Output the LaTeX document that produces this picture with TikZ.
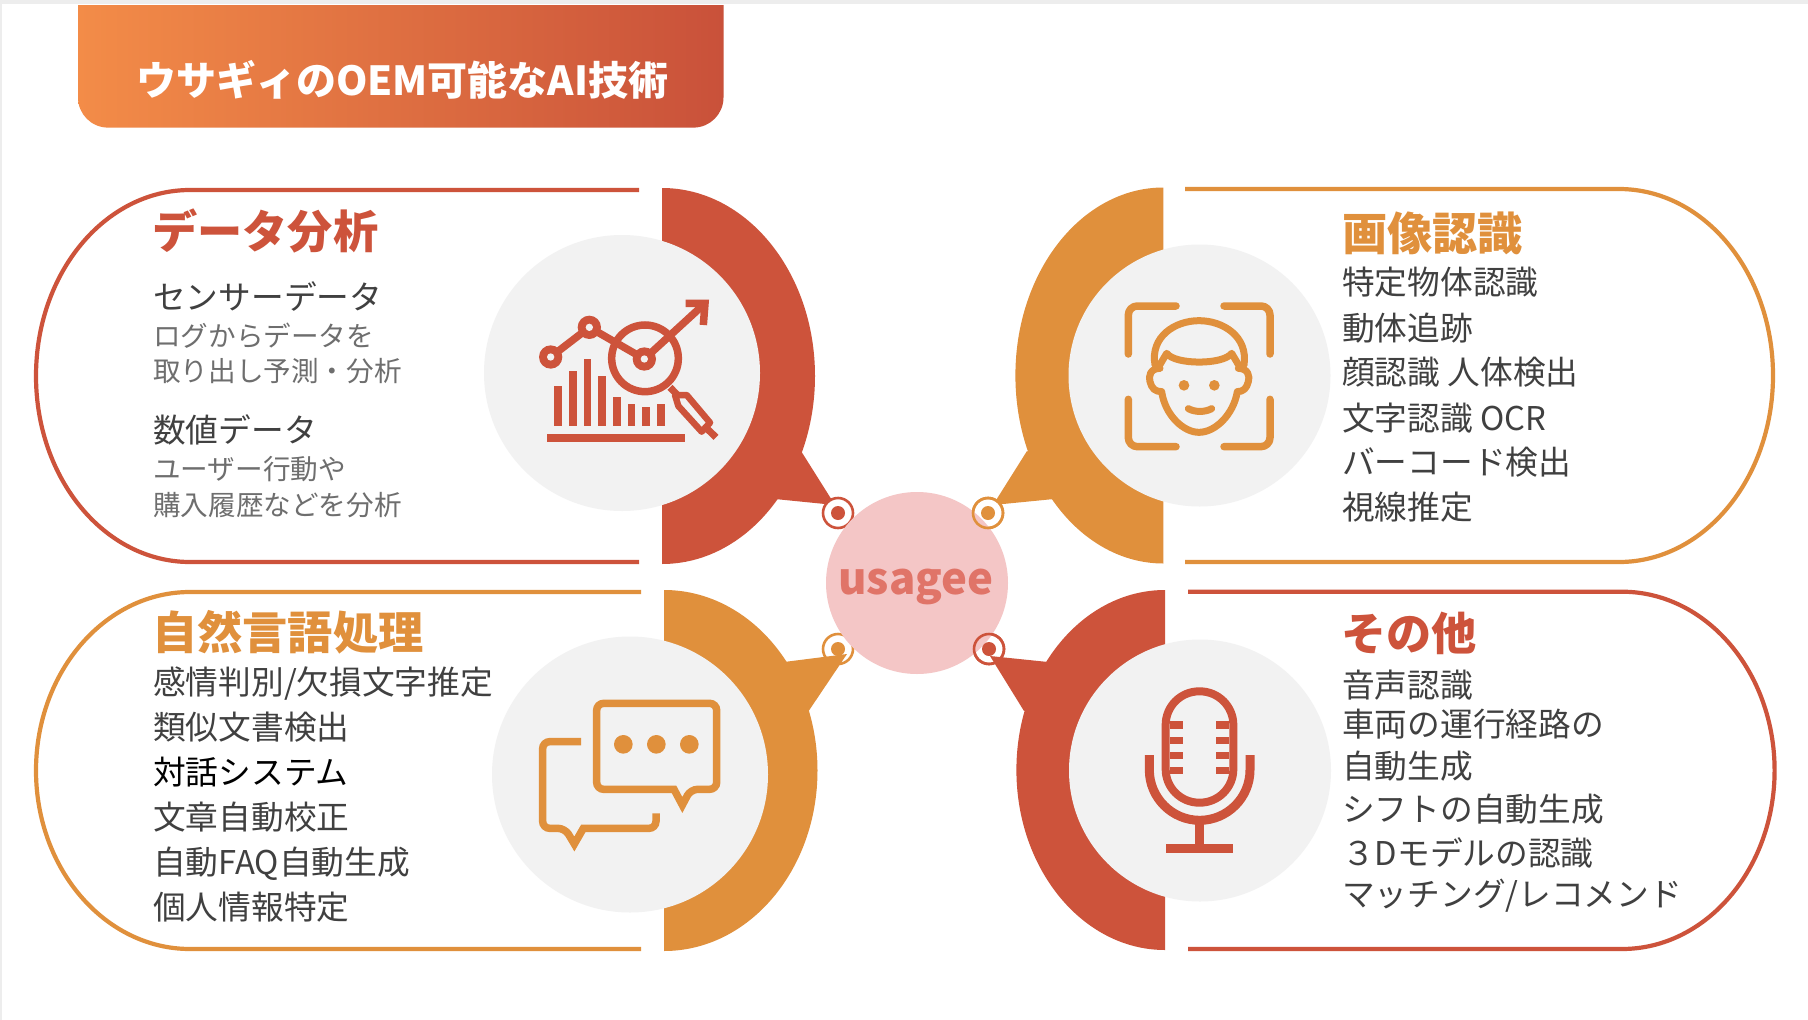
\documentclass[tikz,border=0pt]{standalone}
\usepackage{fontspec}
\setmainfont{Noto Sans}
\newfontfamily\cjk{Noto Sans CJK JP}
\definecolor{redc}{HTML}{CD533B}
\definecolor{orac}{HTML}{E0903C}
\definecolor{pale}{HTML}{F2F2F2}
\definecolor{pinkc}{HTML}{F4C6C6}
\definecolor{logoc}{HTML}{E07468}
\definecolor{ink}{HTML}{404040}
\definecolor{soft}{HTML}{6E6E6E}
\definecolor{bandl}{HTML}{F38C48}
\definecolor{bandr}{HTML}{C9513A}
\definecolor{edge}{HTML}{EDEDED}
\tikzset{
  bodytext/.style={anchor=base west,inner sep=0pt,text=ink,font=\cjk\fontsize{32.7}{32.7}\selectfont},
  smalltext/.style={anchor=base west,inner sep=0pt,text=soft,font=\cjk\fontsize{27.6}{27.6}\selectfont},
  headtext/.style={anchor=base west,inner sep=0pt,font=\cjk\bfseries\fontsize{45.2}{45.2}\selectfont},
  outline/.style={line width=4.2pt},
  ringnode/.style={circle,inner sep=0pt,minimum size=30pt,line width=2.6pt},
  dotnode/.style={circle,inner sep=0pt,minimum size=14pt},
  icon/.style={line width=7.5pt,line cap=butt},
  disc/.style={circle,inner sep=0pt,fill=pale},
  zoomed/.style={x=.33333pt,y=-.33333pt},
}
\begin{document}
\begin{tikzpicture}[x=1pt,y=-1pt]
\useasboundingbox (0,0) rectangle (1808,1020);
\fill[white] (0,0) rectangle (1808,1020);
\fill[edge] (0,0) rectangle (1808,4);
\fill[edge] (0,0) rectangle (2,1020);
% banner
\shade[left color=bandl,right color=bandr]
  (78,5) -- (78,97.6) .. controls (78,114) and (91.4,127.6) .. (108,127.6)
  -- (693.5,127.6) .. controls (710,127.6) and (723.5,114) .. (723.5,97.6) -- (723.5,5) -- cycle;
\node[anchor=base west,inner sep=0pt,text=white,font=\cjk\bfseries\fontsize{40}{40}\selectfont] (title) at (136,95) {ウサギィのOEM可能なAI技術};
% ring positions
\coordinate (tipTL) at (838,513);
\coordinate (tipTR) at (988,513);
\coordinate (tipBL) at (838,649);
\coordinate (tipBR) at (989,649);
\coordinate (endTL) at (835,505);
\coordinate (endTR) at (993,505);
\coordinate (endBL) at (847,654);
\coordinate (endBR) at (990,656);
% outlines
\draw[outline,redc] (639,190) -- (190,190) .. controls (105,190) and (36,273) .. (36,376) .. controls (36,479) and (105,562) .. (190,562) -- (639,562);
\draw[outline,orac] (641,592) -- (190,592) .. controls (105,592) and (36,672) .. (36,770.5) .. controls (36,869) and (105,949) .. (190,949) -- (641,949);
\draw[outline,orac] (1185,189) -- (1619,189) .. controls (1704,189) and (1773,272.5) .. (1773,375.5) .. controls (1773,478.5) and (1704,562) .. (1619,562) -- (1185,562);
\draw[outline,redc] (1188,591.7) -- (1622,591.7) .. controls (1706,591.7) and (1774.6,671.7) .. (1774.6,770.4) .. controls (1774.6,869) and (1706,949) .. (1622,949) -- (1188,949);
% crescents
\begin{scope}\clip (662,150) rectangle (900,600);
\fill[redc] (662,376) ellipse[x radius=153,y radius=188];\end{scope}
\begin{scope}\clip (664,570) rectangle (900,980);
\fill[orac] (664,770.5) ellipse[x radius=153.5,y radius=180.5];\end{scope}
\begin{scope}\clip (950,150) rectangle (1163.4,600);
\fill[orac] (1163.4,375.5) ellipse[x radius=148,y radius=188];\end{scope}
\begin{scope}\clip (950,570) rectangle (1165,980);
\fill[redc] (1165,770) ellipse[x radius=148.6,y radius=180];\end{scope}
% discs
\node[disc,minimum size=276pt] (discTL) at (622,373) {};
\node[disc,minimum size=276pt] (discBL) at (630,774.5) {};
\node[disc,minimum size=262pt] (discTR) at (1199.5,375.5) {};
\node[disc,minimum size=262pt] (discBR) at (1200,770.5) {};
% upper tails sit under their rings
\fill[redc] (801,451) -- (endTL) -- (775,499) -- (770,470) -- cycle;
\fill[orac] (1027,451) -- (endTR) -- (1054,499) -- (1060,470) -- cycle;
% centre
\node[ringnode,draw=redc,fill=white] (ringTL) at (tipTL) {};
\node[ringnode,draw=orac,fill=white] (ringBL) at (tipBL) {};
\node[ringnode,draw=orac,fill=white] (ringTRw) at (tipTR) {};
\node[ringnode,draw=redc,fill=white] (ringBRw) at (tipBR) {};
\node[circle,fill=pinkc,inner sep=0pt,minimum size=182pt] (hub) at (917,583) {};
\node[ringnode,draw=orac] (ringTR) at (tipTR) {};
\node[ringnode,draw=redc] (ringBR) at (tipBR) {};
% lower tails lie over their rings
\fill[orac] (784,662) -- (endBL) -- (808,712) -- (775,700) -- cycle;
\fill[redc] (1048,662) -- (endBR) -- (1024,711) -- (1055,700) -- cycle;
\node[dotnode,fill=redc] (dotTL) at (tipTL) {};
\node[dotnode,fill=orac] (dotTR) at (tipTR) {};
\node[dotnode,fill=orac] (dotBL) at (tipBL) {};
\node[dotnode,fill=redc] (dotBR) at (tipBR) {};
\node[anchor=base,inner sep=0pt,text=logoc,font=\cjk\bfseries\fontsize{43.7}{43.7}\selectfont] (logo) at (916,594) {usagee};
% data icon
\begin{scope}[shift={(510,280)},zoomed,redc]
\fill (112,462) rectangle (525,487);
\fill (133,317) rectangle (156,438);
\fill (177,273) rectangle (200,438);
\fill (221,236) rectangle (244,438);
\fill (265,288) rectangle (288,438);
\fill (309,350) rectangle (332,438);
\fill (353,372) rectangle (376,438);
\fill (397,382) rectangle (420,438);
\fill (441,372) rectangle (464,438);
\draw[line width=7.5pt] (122,231) -- (238,142) -- (403,237) -- (585,70);
\draw[line width=7.5pt] (527,70) -- (585,70) -- (580,135);
\fill (122,231) circle[radius=35]; \fill[pale] (122,231) circle[radius=11];
\fill (238,142) circle[radius=35]; \fill[pale] (238,142) circle[radius=11];
\fill (403,237) circle[radius=35]; \fill[pale] (403,237) circle[radius=11];
\draw[line width=7.5pt] (405,235) circle[radius=100];
\draw[line width=6.5pt,line join=round] (495,345) -- (530,345) -- (600,428) -- (575,455) -- (505,378) -- cycle;
\draw[line width=7pt] (590,445) -- (618,472);
\draw[line width=7pt] (480,322) -- (505,348);
\end{scope}
% face icon
\begin{scope}[shift={(1100,280)},zoomed,orac,line cap=round,line join=round]
\draw[icon,line cap=round,rounded corners=9pt] (85,222) -- (85,78) -- (228,78);
\draw[icon,line cap=round,rounded corners=9pt] (372,78) -- (510,78) -- (510,222);
\draw[icon,line cap=round,rounded corners=9pt] (85,358) -- (85,500) -- (228,500);
\draw[icon,line cap=round,rounded corners=9pt] (372,500) -- (510,500) -- (510,358);
\draw[line width=7pt] (165,255) .. controls (150,170) and (225,122) .. (297,122) .. controls (370,122) and (445,170) .. (432,255);
\draw[line width=7pt] (175,262) -- (200,220) .. controls (225,255) and (370,255) .. (395,220) -- (420,262);
\draw[line width=7pt] (180,265) .. controls (150,265) and (145,290) .. (150,305) .. controls (155,325) and (165,335) .. (185,335)
  .. controls (195,405) and (250,457) .. (297,457) .. controls (345,457) and (400,405) .. (412,335)
  .. controls (430,335) and (440,325) .. (445,305) .. controls (450,290) and (445,265) .. (415,265);
\fill (252,316) circle[radius=16];
\fill (343,316) circle[radius=16];
\draw[line width=7pt] (265,386) .. controls (285,397) and (315,397) .. (335,386);
\end{scope}
% chat icon
\begin{scope}[shift={(520,680)},zoomed,orac]
\draw[icon] (230,70) [rounded corners=7pt] -- (590,70) -- (590,328) -- (512,328) [sharp corners] -- (487,375) -- (462,328) [rounded corners=7pt] -- (230,328) -- cycle;
\fill (310,193) circle[radius=28];
\fill (409,193) circle[radius=28];
\fill (508,193) circle[radius=28];
\draw[icon] (183,185) [rounded corners=7pt] -- (68,185) -- (68,445) -- (135,445) [sharp corners] -- (163,492) -- (190,445) [rounded corners=7pt] -- (408,445) -- (408,400);
\end{scope}
% mic icon
\begin{scope}[shift={(1120,670)},zoomed,redc]
\draw[line width=8pt,rounded corners=33.5pt] (137,64) rectangle (340,398);
\fill (150,154) rectangle (190,176);
\fill (150,200) rectangle (190,222);
\fill (150,246) rectangle (190,268);
\fill (150,290) rectangle (190,312);
\fill (288,154) rectangle (328,176);
\fill (288,200) rectangle (328,222);
\fill (288,246) rectangle (328,268);
\fill (288,290) rectangle (328,312);
\draw[line width=9pt] (88,255) -- (88,300) .. controls (88,383) and (156,451) .. (239,451) .. controls (322,451) and (390,383) .. (390,300) -- (390,255);
\draw[line width=8.5pt] (238,451) -- (238,535);
\fill (137,523) rectangle (340,550);
\end{scope}
% text TL
\node[headtext,text=redc] (hTL) at (152,248) {データ分析};
\node[bodytext] (a1) at (153,309) {センサーデータ};
\node[smalltext] (a2) at (153,346) {ログからデータを};
\node[smalltext] (a3) at (153,381) {取り出し予測・分析};
\node[bodytext] (a4) at (153,442) {数値データ};
\node[smalltext] (a5) at (153,479) {ユーザー行動や};
\node[smalltext] (a6) at (153,515) {購入履歴などを分析};
% text BL
\node[headtext,text=orac] (hBL) at (152,649) {自然言語処理};
\node[bodytext] (b1) at (153,694) {感情判別/欠損文字推定};
\node[bodytext] (b2) at (153,739) {類似文書検出};
\node[bodytext,text=black] (b3) at (153,784) {対話システム};
\node[bodytext] (b4) at (153,829) {文章自動校正};
\node[bodytext] (b5) at (153,874) {自動FAQ自動生成};
\node[bodytext] (b6) at (153,919) {個人情報特定};
% text TR
\node[headtext,text=orac] (hTR) at (1342,250) {画像認識};
\node[bodytext] (c1) at (1342,294) {特定物体認識};
\node[bodytext] (c2) at (1342,340) {動体追跡};
\node[bodytext] (c3) at (1342,384) {顔認識 人体検出};
\node[bodytext] (c4) at (1342,430) {文字認識 OCR};
\node[bodytext] (c5) at (1342,474) {バーコード検出};
\node[bodytext] (c6) at (1342,519) {視線推定};
% text BR
\node[headtext,text=redc] (hBR) at (1341,650) {その他};
\node[bodytext] (d1) at (1342,697) {音声認識};
\node[bodytext] (d2) at (1342,736) {車両の運行経路の};
\node[bodytext] (d3) at (1342,778) {自動生成};
\node[bodytext] (d4) at (1342,821) {シフトの自動生成};
\node[bodytext] (d5) at (1342,865) {３Dモデルの認識};
\node[bodytext] (d6) at (1342,906) {マッチング/レコメンド};
\end{tikzpicture}
\end{document}
